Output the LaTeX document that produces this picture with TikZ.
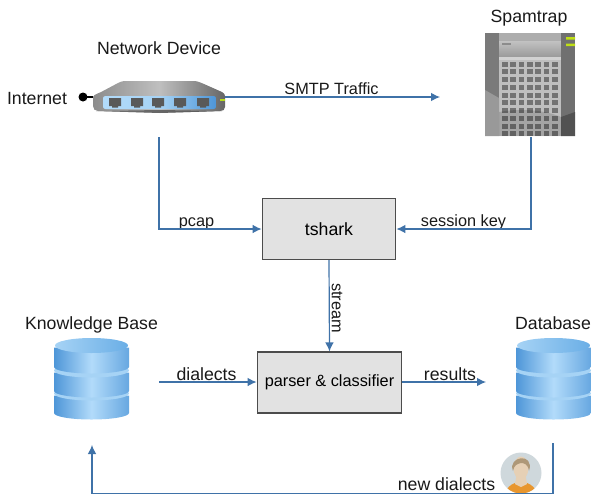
\documentclass[tikz,border=0pt]{standalone}
\usepackage{fontspec}
\setmainfont{Liberation Sans}
\usetikzlibrary{arrows.meta,positioning}
\definecolor{flowblue}{HTML}{3F72A8}
\definecolor{boxgray}{HTML}{E2E2E2}
\definecolor{dbdark}{HTML}{4E96D8}
\definecolor{dblight}{HTML}{B2DBFA}
\definecolor{dbrim}{HTML}{A6D3F5}
\definecolor{dbtop}{HTML}{6AAEE6}
\definecolor{shirt}{HTML}{E8962E}
\definecolor{skin}{HTML}{E6D0B5}
\definecolor{hair}{HTML}{AE9878}
\definecolor{backdrop}{HTML}{CFD8DC}
\tikzstyle{process} = [draw=black!70, line width=0.045cm, fill=boxgray, minimum height=1.82cm, inner sep=0pt, text centered]
\tikzstyle{icon} = [inner sep=0pt, minimum width=2.25cm, minimum height=2.4cm]
\tikzstyle{biglabel} = [inner sep=0pt, anchor=base, font=\fontsize{15.1}{18}\selectfont, color=black!90]
\tikzstyle{smalllabel} = [inner sep=0pt, anchor=base, font=\fontsize{13.9}{17}\selectfont, color=black!90]
\tikzstyle{arrow} = [draw, line width=0.036cm, color=flowblue, -{Latex[length=0.27cm,width=0.26cm]}]
\newcommand{\process}[3]{node (p#1) [process, minimum width=#3] {#2}}
\newcommand{\icon}[3]{node (i#1) [icon, minimum width=#2, minimum height=#3] {}}
\newcommand{\biglabel}[2]{node (l#1) [biglabel] {#2}}
\newcommand{\smalllabel}[2]{node (s#1) [smalllabel] {#2}}
\newcommand{\dbdisk}[2]{
  \path [left color=dbdark, right color=dbdark!75!dblight, middle color=dblight]
    (-37.5,#1) -- (-37.5,#2) arc[start angle=180, end angle=0, x radius=37.5, y radius=6.5] -- (37.5,#1) -- cycle;
}
\newcommand{\dbart}[1]{
  \begin{scope}[shift={(#1)}]
    \dbdisk{17}{34.5}
    \path [fill=dbrim] (0,15) ellipse [x radius=37.5, y radius=7];
    \dbdisk{-6}{12.5}
    \path [fill=dbrim] (0,-8) ellipse [x radius=37.5, y radius=7];
    \dbdisk{-31}{-11.5}
    \path [left color=dbrim, right color=dbtop] (0,-33) ellipse [x radius=36.5, y radius=7.5];
  \end{scope}
}
\begin{document}
\begin{tikzpicture}[x=0.03cm,y=-0.03cm]
\useasboundingbox (0,0) rectangle (591,495);

\path (159,97) \icon{1}{3.96cm}{1cm};
\path (530.5,84.5) \icon{2}{2.7cm}{3.09cm};
\path (91.5,378.5) \icon{3}{2.25cm}{2.43cm};
\path (553.5,378.5) \icon{4}{2.25cm}{2.43cm};
\path (521,473) \icon{5}{1.23cm}{1.23cm};
\path (329,229) \process{1}{\fontsize{15.1}{18}\selectfont tshark}{4.0cm};
\path (329.5,382.5) \process{2}{\fontsize{13.9}{17}\selectfont parser \& classifier}{4.33cm};

\fill (83,97) circle (4.5);
\draw [line width=0.04cm] (83,97) -- (i1.west);
\path [left color=black!45, right color=black!60, middle color=black!25]
  (93,97) .. controls (94,94) and (100,93) .. (103,91) -- (118,83) .. controls (120,82) and (122,81) .. (126,81)
  -- (194,81) .. controls (198,81) and (201,83) .. (204,84) -- (222,92) .. controls (225,94) and (225,95) .. (225,97)
  -- (225,107) .. controls (225,110) and (223,111) .. (220,111) -- (160,113) -- (98,111) .. controls (95,111) and (93,109) .. (93,106) -- cycle;
\path [left color=black!55, right color=black!65] (96,111) -- (160,113) -- (222,111) -- (160,110) -- cycle;
\path [rounded corners=2, left color=dblight, right color=dbdark, middle color=dbrim] (103,96) rectangle (216,109);
\foreach \portx in {115,137,158,180,203}
  \path [fill=black!65] (\portx-6,98) rectangle (\portx+6,106) (\portx-3,106) rectangle (\portx+3,107.5);
\path [fill=yellow!70!green] (220,98.5) rectangle (225,100.5);

\path [fill=black!25] (485,33) rectangle (575,136);
\path [top color=black!24, bottom color=black!40] (499,41) rectangle (561,57);
\path [fill=black!32] (499,33) rectangle (561,41);
\path [fill=black!18] (499,57) rectangle (561,60);
\path [fill=black!52] (485,33) rectangle (499,136);
\path [fill=black!40] (485,90) -- (499,98) -- (499,136) -- (485,136) -- cycle;
\path [fill=black!56] (561,33) rectangle (575,136);
\path [fill=black!68] (561,117) -- (575,112) -- (575,136) -- (561,136) -- cycle;
\path [fill=black!45] (502,42.5) rectangle (511,44.5);
\path [fill=yellow!75!green] (566,37) rectangle (575,39.5) (566,43.5) rectangle (575,46);
\foreach \cellx in {0,...,6}
  \foreach \celly in {0,...,9}
    \path [fill=black!55] (502+\cellx*8.35,61.5+\celly*7.75) rectangle +(5.6,5);
\path [fill=black, opacity=0.14] (499,112) .. controls (520,108) and (545,110) .. (561,117) -- (561,136) -- (499,136) -- cycle;

\dbart{i3}
\dbart{i4}

\path [fill=backdrop] (i5) circle (20.5);
\begin{scope}
\clip (i5) circle (20.5);
\path [fill=shirt] (521,498) ellipse [x radius=17, y radius=16];
\end{scope}
\path [fill=skin] (517,472) -- (525,472) -- (527,484) -- (521,487) -- (515,484) -- cycle;
\path [fill=skin] (521,468) ellipse [x radius=7.5, y radius=11.5];
\path [fill=hair] (513,471) .. controls (507,456) and (535,452) .. (529,471)
  .. controls (528,464) and (524,463) .. (521,463) .. controls (517,464) and (514,465) .. (513,471) -- cycle;

\path (159,54) \biglabel{1}{Network Device};
\path (37,104) \biglabel{2}{Internet};
\path (529,22) \biglabel{3}{Spamtrap};
\path (91.5,329) \biglabel{4}{Knowledge Base};
\path (553,329) \biglabel{5}{Database};
\path (206.5,380) \biglabel{6}{dialects};
\path (450,380) \biglabel{7}{results};
\path (446.5,490) \biglabel{8}{new dialects};
\path (331.5,94) \smalllabel{1}{SMTP Traffic};
\path (196.5,226) \smalllabel{2}{pcap};
\path (463.5,226) \smalllabel{3}{session key};
\path (337,308) node (s4) [rotate=-90, inner sep=0pt, font=\fontsize{13.9}{17}\selectfont, color=black!90] {stream};

\coordinate (c1) at (440,97);
\coordinate (c2) at (159,137);
\coordinate (c3) at (531,137);
\coordinate (c4) at (159,382);
\coordinate (c5) at (486,382);
\coordinate (c6) at (553,443);
\coordinate (c7) at (92,445);
\path [arrow] (i1.east) -- (c1);
\path [arrow] (c2) |- (p1.west);
\path [arrow] (c3) |- (p1.east);
\path [arrow] (p1.south) -- (p2.north);
\path [arrow] (c4) -- (c4 -| p2.west);
\path [arrow] (c5 -| p2.east) -- (c5);
\path [arrow] (c6) -- (553,493.5) -- (92,493.5) -- (c7);
\end{tikzpicture}
\end{document}
